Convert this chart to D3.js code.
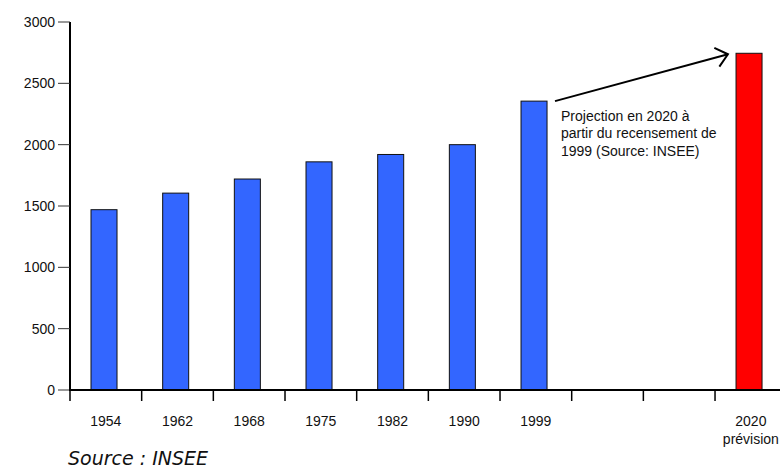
<!DOCTYPE html>
<html>
<head>
<meta charset="utf-8">
<script src="https://cdn.jsdelivr.net/npm/d3@7"></script>
<style>
  html, body { margin: 0; padding: 0; background: #fff; }
  svg { display: block; }
  text { font-family: "Liberation Sans", Arial, sans-serif; fill: #111; }
</style>
</head>
<body>
<script>
// Census years (two empty slots before the 2020 projection)
const categories = ["1954", "1962", "1968", "1975", "1982", "1990", "1999", "", "", "2020"];
const subLabels  = ["", "", "", "", "", "", "", "", "", "prévision"];
const values     = [1470, 1605, 1720, 1860, 1920, 2000, 2355, null, null, 2745];
const projected  = [false, false, false, false, false, false, false, false, false, true];
const yTicks     = [0, 500, 1000, 1500, 2000, 2500, 3000];
const noteLines  = ["Projection en 2020 à", "partir du recensement de", "1999 (Source: INSEE)"];
const sourceText = "Source : INSEE";

const W = 780, H = 469;
const svg = d3.select("body").append("svg").attr("width", W).attr("height", H);

const x = d3.scaleBand().domain(d3.range(categories.length)).range([70, 786.7]).padding(0);
const y = d3.scaleLinear().domain([0, 3000]).range([390, 22]);
const bw = x.bandwidth();

// bars
const bars = categories.map((c, i) => ({ i, v: values[i], p: projected[i] })).filter(d => d.v != null);
svg.append("g").selectAll("rect").data(bars).join("rect")
  .attr("x", d => x(d.i) + bw * 0.293)
  .attr("width", bw * 0.363)
  .attr("y", d => y(d.v))
  .attr("height", d => y(0) - y(d.v))
  .attr("fill", d => d.p ? "#ff0000" : "#3366ff")
  .attr("stroke", "#111")
  .attr("stroke-width", 1);

// y axis
const gy = svg.append("g");
gy.append("line").attr("x1", 70).attr("x2", 70).attr("y1", y(3000)).attr("y2", y(0) + 1)
  .attr("stroke", "#000").attr("stroke-width", 2);
gy.selectAll("line.tk").data(yTicks).join("line").attr("class", "tk")
  .attr("x1", 58).attr("x2", 70).attr("y1", d => y(d)).attr("y2", d => y(d))
  .attr("stroke", "#333").attr("stroke-width", 1);
gy.selectAll("text").data(yTicks).join("text")
  .attr("x", 55).attr("y", d => y(d)).attr("dy", "0.35em")
  .attr("text-anchor", "end").attr("font-size", 14)
  .text(d => d);

// x axis
const gx = svg.append("g");
gx.append("line").attr("x1", 69).attr("x2", W).attr("y1", y(0)).attr("y2", y(0))
  .attr("stroke", "#000").attr("stroke-width", 2);
gx.selectAll("line.tk").data(d3.range(categories.length + 1)).join("line").attr("class", "tk")
  .attr("x1", d => d < categories.length ? x(d) : x(d - 1) + bw)
  .attr("x2", d => d < categories.length ? x(d) : x(d - 1) + bw)
  .attr("y1", y(0)).attr("y2", y(0) + 11)
  .attr("stroke", "#000").attr("stroke-width", 1.5);
gx.selectAll("text.cat").data(categories).join("text").attr("class", "cat")
  .attr("x", (d, i) => x(i) + bw / 2).attr("y", 426)
  .attr("text-anchor", "middle").attr("font-size", 14)
  .text(d => d);
gx.selectAll("text.sub").data(subLabels).join("text").attr("class", "sub")
  .attr("x", (d, i) => x(i) + bw / 2).attr("y", 444)
  .attr("text-anchor", "middle").attr("font-size", 14)
  .text(d => d);

// projection arrow from the 1999 bar to the 2020 bar
const x0 = x(6) + bw * 0.767, y0 = y(values[6]);
const x1 = x(9) + bw * 0.18,  y1 = y(values[9]) + 1;
const ang = Math.atan2(y1 - y0, x1 - x0);
const arm = 15, spread = 0.7;
svg.append("line").attr("x1", x0).attr("y1", y0).attr("x2", x1).attr("y2", y1)
  .attr("stroke", "#000").attr("stroke-width", 2);
svg.append("path")
  .attr("d", `M${x1 - arm * Math.cos(ang - spread)},${y1 - arm * Math.sin(ang - spread)}L${x1},${y1}L${x1 - arm * Math.cos(ang + spread)},${y1 - arm * Math.sin(ang + spread)}`)
  .attr("fill", "none").attr("stroke", "#000").attr("stroke-width", 2)
  .attr("stroke-linejoin", "miter");

// annotation
svg.append("g").selectAll("text").data(noteLines).join("text")
  .attr("x", 561).attr("y", (d, i) => 120.5 + i * 17.5)
  .attr("font-size", 14).text(d => d);

// source
svg.append("text").attr("x", 68).attr("y", 465)
  .style("font-family", "'DejaVu Sans', Verdana, sans-serif")
  .attr("font-style", "italic").attr("font-size", 19)
  .text(sourceText);
</script>
</body>
</html>
